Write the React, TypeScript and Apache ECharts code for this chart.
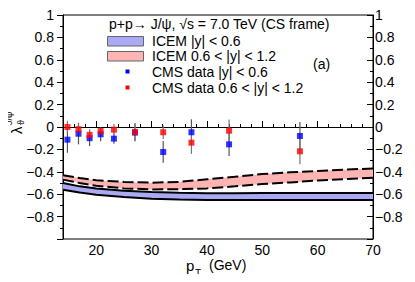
import React, { useEffect, useRef } from "react";
import * as echarts from "echarts";

// CMS data points
const ptX = [14.8, 16.8, 18.8, 20.8, 23.2, 27.0, 32.1, 37.2, 44.0, 56.8];
const cmsCentral = [-0.113, -0.06, -0.10, -0.065, -0.104, -0.05, -0.223, -0.047, -0.155, -0.08];
const cmsCentralErr = [0.117, 0.095, 0.07, 0.063, 0.046, 0.078, 0.097, 0.116, 0.105, 0.125];
const cmsForward = [0.0, -0.02, -0.07, -0.036, -0.024, -0.045, -0.047, -0.14, -0.033, -0.217];
const cmsForwardErr = [0.056, 0.058, 0.05, 0.03, 0.05, 0.08, 0.062, 0.1, 0.1, 0.115];

// ICEM bands
const bandX = [14, 17, 20, 25, 30, 35, 40, 45, 50, 55, 60, 65, 70];
const blueUpper = [-0.50, -0.53, -0.55, -0.57, -0.58, -0.588, -0.592, -0.592, -0.59, -0.59, -0.59, -0.59, -0.59];
const blueLower = [-0.56, -0.585, -0.605, -0.625, -0.64, -0.648, -0.652, -0.652, -0.652, -0.652, -0.652, -0.652, -0.652];
const redUpper = [-0.43, -0.455, -0.475, -0.49, -0.497, -0.49, -0.467, -0.445, -0.42, -0.405, -0.392, -0.38, -0.37];
const redLower = [-0.47, -0.50, -0.525, -0.548, -0.557, -0.555, -0.548, -0.53, -0.51, -0.495, -0.478, -0.465, -0.453];

const xMajor = [20, 30, 40, 50, 60, 70];
const xMinor = [14, 16, 18, 22, 24, 26, 28, 32, 34, 36, 38, 42, 44, 46, 48, 52, 54, 56, 58, 62, 64, 66, 68];

const FONT = "Liberation Sans, Arial, Helvetica, sans-serif";
const BLUE_FILL = "#a9a9f4";
const RED_FILL = "#ffb4b4";

const fmtY = (v: number) => {
  const r = Math.round(v * 10) / 10;
  return String(r).replace("-", "\u2212");
};

export default function App() {
  const ref = useRef<HTMLDivElement>(null);
  useEffect(() => {
    if (!ref.current) return;
    const chart = echarts.init(ref.current, null, { renderer: "svg" });

    const pair = (xs: number[], ys: number[]) => xs.map((x, i) => [x, ys[i]]);
    const bandData = (lo: number[], up: number[]) => bandX.map((x, i) => [x, lo[i], up[i]]);

    const bandRender = (fill: string, lo: number[], up: number[]) => (params: any, api: any) => {
      if (params.dataIndex !== 0) return null;
      const top = bandX.map((x, i) => api.coord([x, up[i]]));
      const bot = bandX.map((x, i) => api.coord([x, lo[i]])).reverse();
      return {
        type: "polygon",
        shape: { points: top.concat(bot) },
        style: { fill, stroke: "none" },
      };
    };

    const errData = (ys: number[], es: number[]) => ptX.map((x, i) => [x, ys[i] - es[i], ys[i] + es[i]]);
    const errRender = (color: string) => (params: any, api: any) => {
      const x = api.value(0);
      const p1 = api.coord([x, api.value(1)]);
      const p2 = api.coord([x, api.value(2)]);
      return {
        type: "line",
        shape: { x1: p1[0], y1: p1[1], x2: p2[0], y2: p2[1] },
        style: { stroke: color, lineWidth: 1.2 },
      };
    };

    const axisLineStyle = { color: "#000", width: 1 };
    const labelStyle = { color: "#000", fontSize: 14, fontFamily: FONT };

    const option: any = {
      animation: false,
      backgroundColor: "#fff",
      grid: {
        left: 63,
        right: 42,
        top: 15,
        bottom: 43,
        show: true,
        borderColor: "#000",
        borderWidth: 1,
        backgroundColor: "transparent",
      },
      xAxis: [
        {
          type: "value",
          min: 14,
          max: 70,
          position: "bottom",
          axisLine: { show: true, lineStyle: axisLineStyle },
          axisTick: { show: true, inside: true, length: 6, customValues: xMajor, lineStyle: axisLineStyle },
          axisLabel: { show: true, customValues: xMajor, margin: 4, ...labelStyle },
          splitLine: { show: false },
        },
        {
          type: "value",
          min: 14,
          max: 70,
          position: "bottom",
          axisLine: { show: false },
          axisTick: { show: true, inside: true, length: 3, customValues: xMinor, lineStyle: axisLineStyle },
          axisLabel: { show: false },
          splitLine: { show: false },
        },
      ],
      yAxis: [
        {
          type: "value",
          min: -1,
          max: 1,
          interval: 0.2,
          position: "left",
          axisLine: { show: true, lineStyle: axisLineStyle },
          axisTick: { show: true, inside: false, length: 6, lineStyle: axisLineStyle },
          minorTick: { show: true, splitNumber: 2, length: 3, lineStyle: axisLineStyle },
          axisLabel: { showMinLabel: false, margin: 9, formatter: fmtY, ...labelStyle },
          splitLine: { show: false },
        },
        {
          type: "value",
          min: -1,
          max: 1,
          interval: 0.2,
          position: "right",
          axisLine: { show: true, lineStyle: axisLineStyle },
          axisTick: { show: true, inside: true, length: 6, lineStyle: axisLineStyle },
          minorTick: { show: true, splitNumber: 2, length: 3, lineStyle: axisLineStyle },
          axisLabel: { showMinLabel: false, margin: 2, formatter: fmtY, ...labelStyle },
          splitLine: { show: false },
        },
      ],
      series: [
        {
          type: "custom",
          name: "ICEM |y| < 0.6",
          data: bandData(blueLower, blueUpper),
          renderItem: bandRender(BLUE_FILL, blueLower, blueUpper),
          encode: { x: 0, y: [1, 2] },
          z: 1,
        },
        {
          type: "custom",
          name: "ICEM 0.6 < |y| < 1.2",
          data: bandData(redLower, redUpper),
          renderItem: bandRender(RED_FILL, redLower, redUpper),
          encode: { x: 0, y: [1, 2] },
          z: 2,
        },
        {
          type: "line",
          data: pair(bandX, blueUpper),
          symbol: "none",
          lineStyle: { color: "#000", width: 2 },
          z: 3,
        },
        {
          type: "line",
          data: pair(bandX, blueLower),
          symbol: "none",
          lineStyle: { color: "#000", width: 2 },
          z: 3,
        },
        {
          type: "line",
          data: pair(bandX, redUpper),
          symbol: "none",
          lineStyle: { color: "#000", width: 2, type: [11, 4] },
          z: 3,
        },
        {
          type: "line",
          data: pair(bandX, redLower),
          symbol: "none",
          lineStyle: { color: "#000", width: 2, type: [11, 4] },
          z: 3,
        },
        {
          type: "custom",
          data: errData(cmsCentral, cmsCentralErr),
          renderItem: errRender("#555"),
          encode: { x: 0, y: [1, 2] },
          z: 4,
        },
        {
          type: "custom",
          data: errData(cmsForward, cmsForwardErr),
          renderItem: errRender("#777"),
          encode: { x: 0, y: [1, 2] },
          z: 4,
        },
        {
          type: "scatter",
          name: "CMS data |y| < 0.6",
          data: pair(ptX, cmsCentral),
          symbol: "rect",
          symbolSize: 6,
          itemStyle: { color: "#0000ff" },
          z: 5,
        },
        {
          type: "scatter",
          name: "CMS data 0.6 < |y| < 1.2",
          data: pair(ptX, cmsForward),
          symbol: "rect",
          symbolSize: 6,
          itemStyle: { color: "#ff0000" },
          z: 6,
        },
      ],
      graphic: [
        {
          type: "text",
          left: 109,
          top: 17,
          style: { text: "p+p\u2192 J/\u03c8, \u221as = 7.0 TeV (CS frame)", fontSize: 14, fontFamily: FONT, fill: "#000" },
          z: 10,
        },
        {
          type: "rect",
          shape: { x: 107.5, y: 36.5, width: 36, height: 9.5 },
          style: { fill: BLUE_FILL, stroke: "#666", lineWidth: 1 },
          z: 10,
        },
        {
          type: "rect",
          shape: { x: 107.5, y: 51.5, width: 36, height: 9.5 },
          style: { fill: RED_FILL, stroke: "#666", lineWidth: 1 },
          z: 10,
        },
        {
          type: "rect",
          shape: { x: 125.5, y: 69.5, width: 4, height: 4 },
          style: { fill: "#0000ff" },
          z: 10,
        },
        {
          type: "rect",
          shape: { x: 125.5, y: 85.5, width: 4, height: 4 },
          style: { fill: "#ff0000" },
          z: 10,
        },
        {
          type: "text",
          x: 152,
          y: 41,
          style: { text: "ICEM |y| < 0.6", fontSize: 14, fontFamily: FONT, fill: "#000", textVerticalAlign: "middle" },
          z: 10,
        },
        {
          type: "text",
          x: 152,
          y: 56,
          style: { text: "ICEM 0.6 < |y| < 1.2", fontSize: 14, fontFamily: FONT, fill: "#000", textVerticalAlign: "middle" },
          z: 10,
        },
        {
          type: "text",
          x: 152,
          y: 72,
          style: { text: "CMS data |y| < 0.6", fontSize: 14, fontFamily: FONT, fill: "#000", textVerticalAlign: "middle" },
          z: 10,
        },
        {
          type: "text",
          x: 152,
          y: 87.5,
          style: { text: "CMS data 0.6 < |y| < 1.2", fontSize: 14, fontFamily: FONT, fill: "#000", textVerticalAlign: "middle" },
          z: 10,
        },
        {
          type: "text",
          x: 313,
          y: 64,
          style: { text: "(a)", fontSize: 14, fontFamily: FONT, fill: "#000", textVerticalAlign: "middle" },
          z: 10,
        },
        {
          type: "text",
          x: 186,
          y: 265,
          style: { text: "p", fontSize: 15, fontFamily: FONT, fill: "#000", textVerticalAlign: "middle" },
          z: 10,
        },
        {
          type: "text",
          x: 195,
          y: 273,
          style: { text: "T", fontSize: 10, fontFamily: FONT, fill: "#000", textVerticalAlign: "middle" },
          z: 10,
        },
        {
          type: "text",
          x: 209,
          y: 265,
          style: { text: "(GeV)", fontSize: 14, fontFamily: FONT, fill: "#000", textVerticalAlign: "middle" },
          z: 10,
        },
        {
          type: "group",
          x: 16,
          y: 134,
          rotation: Math.PI / 2,
          z: 10,
          children: [
            {
              type: "text",
              x: 0,
              y: 0,
              style: { text: "\u03bb", fontSize: 15, fontFamily: FONT, fill: "#000", textVerticalAlign: "middle" },
            },
            {
              type: "text",
              x: 9,
              y: 5,
              style: { text: "\u03d1", fontSize: 9, fontFamily: FONT, fill: "#000", textVerticalAlign: "middle" },
            },
            {
              type: "text",
              x: 9,
              y: -7,
              style: { text: "J/\u03c8", fontSize: 9, fontFamily: FONT, fill: "#000", textVerticalAlign: "middle" },
            },
          ],
        },
      ],
    };

    chart.setOption(option);
    return () => chart.dispose();
  }, []);

  return <div ref={ref} style={{ width: 415, height: 282, margin: -8 }} />;
}
